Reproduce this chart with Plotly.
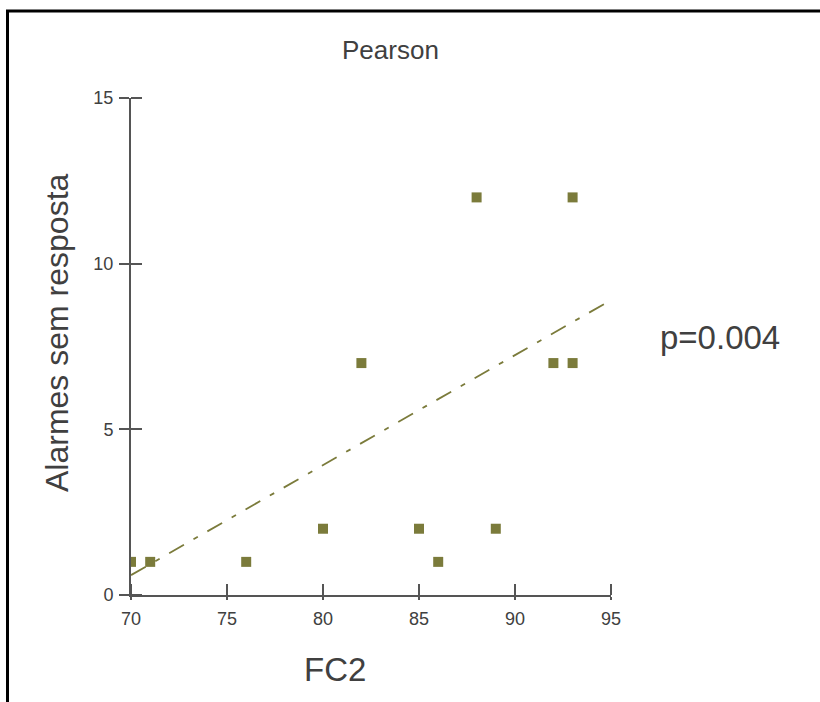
import plotly.graph_objects as go

# FC2 vs unanswered alarms
fc2 = [70, 71, 76, 80, 82, 85, 86, 88, 89, 92, 93, 93]
alarmes = [1, 1, 1, 2, 7, 2, 1, 12, 2, 7, 7, 12]

# fitted trend line end points
trend_x = [70, 95]
trend_y = [0.6, 8.9]

x_ticks = [70, 75, 80, 85, 90, 95]
y_ticks = [0, 5, 10, 15]

W, H = 820, 702
L, R, T, B = 131, 209, 98, 107
OLIVE = "#7b7b3b"
AXIS = "#555555"
TEXT = "#404040"
FONT = "Liberation Sans, Arial, sans-serif"


def px(x):
    return (x - L) / (W - L - R)


def py(y):
    return (H - B - y) / (H - T - B)


fig = go.Figure()
fig.add_trace(go.Scatter(
    x=trend_x, y=trend_y, mode="lines",
    line=dict(color=OLIVE, width=1.8, dash="17px,11px,5px,11px"),
    hoverinfo="skip", showlegend=False,
))
fig.add_trace(go.Scatter(
    x=fc2, y=alarmes, mode="markers",
    marker=dict(symbol="square", size=10, color=OLIVE, line=dict(width=0)),
    showlegend=False,
))

# major ticks point outwards, minor ticks at the same values point inwards,
# so each tick mark crosses the axis line
fig.update_layout(
    width=W, height=H,
    margin=dict(l=L, r=R, t=T, b=B),
    paper_bgcolor="white", plot_bgcolor="white",
    font=dict(family=FONT, color=TEXT, size=18),
    xaxis=dict(
        range=[70, 95], tickvals=x_ticks, ticks="outside", ticklen=3,
        tickwidth=2, tickcolor=AXIS, showline=True, linecolor=AXIS,
        linewidth=2, showgrid=False, zeroline=False,
        tickfont=dict(size=18, color=TEXT, family=FONT),
        ticklabelstandoff=3,
        minor=dict(tickvals=x_ticks, ticks="inside", ticklen=11,
                   tickwidth=2, tickcolor=AXIS, showgrid=False),
    ),
    yaxis=dict(
        range=[0, 15], tickvals=y_ticks, ticks="outside", ticklen=10,
        tickwidth=2, tickcolor=AXIS, showline=True, linecolor=AXIS,
        linewidth=2, showgrid=False, zeroline=False,
        tickfont=dict(size=18, color=TEXT, family=FONT),
        ticklabelstandoff=2,
        minor=dict(tickvals=y_ticks, ticks="inside", ticklen=11,
                   tickwidth=2, tickcolor=AXIS, showgrid=False),
    ),
    shapes=[dict(
        type="rect", xref="paper", yref="paper",
        x0=px(7.5), x1=px(W + 10), y0=py(H + 10), y1=py(11),
        line=dict(color="black", width=3), fillcolor="rgba(0,0,0,0)",
        layer="above",
    )],
    annotations=[
        dict(text="Pearson", x=px(390), y=py(50), xref="paper", yref="paper",
             showarrow=False, xanchor="center", yanchor="middle",
             font=dict(size=26, color=TEXT, family=FONT)),
        dict(text="Alarmes sem resposta", x=px(57), y=py(333),
             xref="paper", yref="paper", showarrow=False, textangle=-90,
             xanchor="center", yanchor="middle",
             font=dict(size=32, color=TEXT, family=FONT)),
        dict(text="FC2", x=px(335), y=py(669), xref="paper", yref="paper",
             showarrow=False, xanchor="center", yanchor="middle",
             font=dict(size=33, color=TEXT, family=FONT)),
        dict(text="p=0.004", x=px(720), y=py(337), xref="paper", yref="paper",
             showarrow=False, xanchor="center", yanchor="middle",
             font=dict(size=33, color=TEXT, family=FONT)),
    ],
)

fig.write_html("out.html")
